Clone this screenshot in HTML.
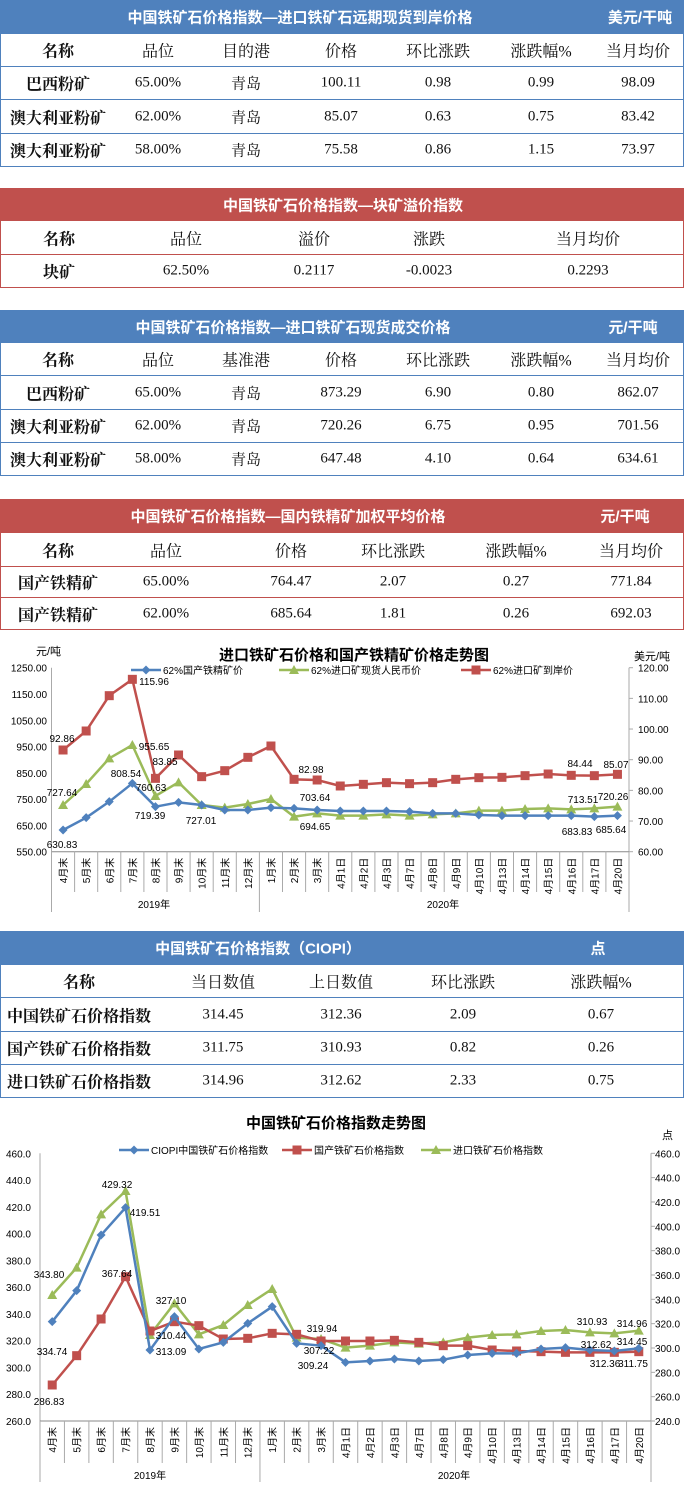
<!DOCTYPE html>
<html><head><meta charset="utf-8">
<style>
body{margin:0;width:684px;height:1487px;position:relative;background:#fff;font-family:"Liberation Serif","Noto Serif CJK SC",serif;overflow:hidden}
.hd{position:absolute;left:0;width:684px;color:#fff;font-weight:bold;font-family:"Liberation Sans","Noto Sans CJK SC",sans-serif;font-size:15px}
.hd span{position:absolute;top:50%;transform:translate(-50%,-50%);white-space:nowrap}
.row{position:absolute;left:0;width:682px;border:1px solid;border-top:none;box-sizing:content-box}
.row span{position:absolute;top:50%;transform:translate(-50%,-50%);white-space:nowrap;font-size:15px;color:#111}
.row span.b{font-weight:bold;font-size:16px}
.row span.h{font-size:16px}
svg text{font-family:"Liberation Sans","Noto Sans CJK SC",sans-serif}
</style></head><body>
<div id="root"></div>
<svg id="c1" style="position:absolute;left:0;top:630px" width="684" height="290"></svg>
<svg id="c2" style="position:absolute;left:0;top:1105px" width="684" height="382"></svg>
<script>
const B='#4f81bd',R='#c0504d';
let html='';
function table(top,color,title,tx,unit,ux,rows,cols,lines){
 html+=`<div class="hd" style="top:${top}px;height:${lines[0]-top}px;background:${color}"><span style="left:${tx}px">${title}</span>${unit?`<span style="left:${ux}px">${unit}</span>`:''}</div>`;
 let y=lines[0];
 rows.forEach((r,i)=>{const h=lines[i+1]-y-1;
  html+=`<div class="row" style="top:${y}px;height:${h}px;border-color:${color}">`+
  r.map((c,j)=>`<span class="${j==0?'b':(i==0?'h':'')}" style="left:${cols[j]}px">${c}</span>`).join('')+'</div>';
  y=lines[i+1];});
}
table(0,B,'中国铁矿石价格指数—进口铁矿石远期现货到岸价格',300,'美元/干吨',640,
[['名称','品位','目的港','价格','环比涨跌','涨跌幅%','当月均价'],
['巴西粉矿','65.00%','青岛','100.11','0.98','0.99','98.09'],
['澳大利亚粉矿','62.00%','青岛','85.07','0.63','0.75','83.42'],
['澳大利亚粉矿','58.00%','青岛','75.58','0.86','1.15','73.97']],
[57,157,245,340,437,540,637],[34,67,100,134,167]);
table(188,R,'中国铁矿石价格指数—块矿溢价指数',343,'',0,
[['名称','品位','溢价','涨跌','当月均价'],['块矿','62.50%','0.2117','-0.0023','0.2293']],
[58,185,313,428,587],[221,255,288]);
table(310,B,'中国铁矿石价格指数—进口铁矿石现货成交价格',293,'元/干吨',633,
[['名称','品位','基准港','价格','环比涨跌','涨跌幅%','当月均价'],
['巴西粉矿','65.00%','青岛','873.29','6.90','0.80','862.07'],
['澳大利亚粉矿','62.00%','青岛','720.26','6.75','0.95','701.56'],
['澳大利亚粉矿','58.00%','青岛','647.48','4.10','0.64','634.61']],
[57,157,245,340,437,540,637],[343,376,410,443,476]);
table(499,R,'中国铁矿石价格指数—国内铁精矿加权平均价格',288,'元/干吨',625,
[['名称','品位','价格','环比涨跌','涨跌幅%','当月均价'],
['国产铁精矿','65.00%','764.47','2.07','0.27','771.84'],
['国产铁精矿','62.00%','685.64','1.81','0.26','692.03']],
[57,165,290,392,515,630],[533,567,598,630]);
table(931,B,'中国铁矿石价格指数（CIOPI）',258,'点',598,
[['名称','当日数值','上日数值','环比涨跌','涨跌幅%'],
['中国铁矿石价格指数','314.45','312.36','2.09','0.67'],
['国产铁矿石价格指数','311.75','310.93','0.82','0.26'],
['进口铁矿石价格指数','314.96','312.62','2.33','0.75']],
[78,222,340,462,600],[965,998,1032,1065,1098]);
document.getElementById('root').innerHTML=html;

const cats=['4月末','5月末','6月末','7月末','8月末','9月末','10月末','11月末','12月末','1月末','2月末','3月末','4月1日','4月2日','4月3日','4月7日','4月8日','4月9日','4月10日','4月13日','4月14日','4月15日','4月16日','4月17日','4月20日'];
const G='#9bbb59';
function mk(shape,x,y,c){
 if(shape=='d')return `<polygon points="${x},${y-4.5} ${x+4.5},${y} ${x},${y+4.5} ${x-4.5},${y}" fill="${c}"/>`;
 if(shape=='s')return `<rect x="${x-4.5}" y="${y-4.5}" width="9" height="9" fill="${c}"/>`;
 return `<polygon points="${x},${y-5} ${x+5},${y+4} ${x-5},${y+4}" fill="${c}"/>`;
}
function series(xs,ys,c,shape){
 let s=`<polyline points="${xs.map((x,i)=>x+','+ys[i]).join(' ')}" fill="none" stroke="${c}" stroke-width="2.5"/>`;
 xs.forEach((x,i)=>s+=mk(shape,x,ys[i],c));return s;
}
function chart(id,o){
 let s='';
 s+=`<text x="${o.tx}" y="${o.ty}" font-size="15" font-weight="bold" text-anchor="middle" font-family="Liberation Serif,Noto Serif CJK SC,serif">${o.title}</text>`;
 s+=`<line x1="${o.x0}" y1="${o.ytop}" x2="${o.x0}" y2="${o.yb}" stroke="#aaa"/>`;
 s+=`<line x1="${o.x1}" y1="${o.ytop}" x2="${o.x1}" y2="${o.yb}" stroke="#aaa"/>`;
 s+=`<line x1="${o.x0}" y1="${o.yb}" x2="${o.x1}" y2="${o.yb}" stroke="#888"/>`;
 o.left.forEach((l,i)=>{const y=o.ytop+(o.yb-o.ytop)*i/(o.left.length-1);
  s+=`<text x="${o.lx}" y="${y+4}" font-size="10" text-anchor="end">${l}</text>`});
 o.right.forEach((l,i)=>{const y=o.ytop+(o.yb-o.ytop)*i/(o.right.length-1);
  s+=`<line x1="${o.x1}" y1="${y}" x2="${o.x1+4}" y2="${y}" stroke="#aaa"/><text x="${o.rx}" y="${y+4}" font-size="10">${l}</text>`});
 const sp=(o.x1-o.x0)/25, xs=cats.map((_,i)=>o.x0+sp*(i+.5));
 for(let i=0;i<=25;i++){const x=o.x0+sp*i;s+=`<line x1="${x}" y1="${o.yb}" x2="${x}" y2="${i==0||i==25||i==9?o.yend:o.ydiv}" stroke="#aaa"/>`;}
 cats.forEach((c,i)=>s+=`<text transform="translate(${xs[i]+4},${o.yb+6}) rotate(-90)" font-size="10" text-anchor="end">${c}</text>`);
 s+=`<text x="${o.y19}" y="${o.yy}" font-size="10" text-anchor="middle">2019年</text><text x="${o.y20}" y="${o.yy}" font-size="10" text-anchor="middle">2020年</text>`;
 o.series.forEach(se=>s+=series(xs,se.y,se.c,se.m));
 o.legend.forEach(l=>{s+=`<line x1="${l[0]}" y1="${l[1]}" x2="${l[0]+30}" y2="${l[1]}" stroke="${l[3]}" stroke-width="2.5"/>`+mk(l[4],l[0]+15,l[1],l[3])+`<text x="${l[0]+32}" y="${l[1]+4}" font-size="10">${l[2]}</text>`});
 o.labels.forEach(l=>s+=`<text x="${l[1]}" y="${l[2]+4}" font-size="10" text-anchor="middle">${l[0]}</text>`);
 (o.extra||[]).forEach(e=>s+=`<text x="${e[1]}" y="${e[2]}" font-size="11">${e[0]}</text>`);
 document.getElementById(id).innerHTML=s;
}
const v=a=>a.map(z=>z/3);
chart('c1',{title:'进口铁矿石价格和国产铁精矿价格走势图',tx:354,ty:30,x0:51.5,x1:629,ytop:37.7,yb:221.7,ydiv:262,yend:282,
 left:['1250.00','1150.00','1050.00','950.00','850.00','750.00','650.00','550.00'],lx:47,
 right:['120.00','110.00','100.00','90.00','80.00','70.00','60.00'],rx:638,y19:154,y20:443,yy:278,
 series:[
 {c:R,m:'s',y:v([360,303,197,148,445,375,440,422,382,348,448,450,468,463,458,461,458,448,443,442,437,432,436,437,433])},
 {c:G,m:'t',y:v([525,462,385,345,498,457,525,533,522,507,560,550,557,557,553,557,553,550,542,542,537,535,538,535,530])},
 {c:B,m:'d',y:v([600,563,515,460,530,517,525,540,540,533,535,540,543,543,543,545,550,550,555,557,557,557,557,560,557])}],
 legend:[[131,40,'62%国产铁精矿价',B,'d'],[279,40,'62%进口矿现货人民币价',G,'t'],[461,40,'62%进口矿到岸价',R,'s']],
 labels:[['92.86',62,108],['115.96',154,51],['955.65',154,116],['83.85',165,131],['808.54',126,143],['760.63',151,157],['727.64',62,162],['719.39',150,185],['727.01',201,190],['630.83',62,214],['82.98',311,139],['703.64',315,167],['694.65',315,196],['84.44',580,133],['85.07',616,134],['713.51',583,169],['720.26',613,166],['683.83',577,201],['685.64',611,199]],
 extra:[['元/吨',36,25],['美元/吨',634,30]]});
chart('c2',{title:'中国铁矿石价格指数走势图',tx:336,ty:23,x0:40,x1:651,ytop:48.3,yb:316,ydiv:358,yend:377,
 left:['460.0','440.0','420.0','400.0','380.0','360.0','340.0','320.0','300.0','280.0','260.0'],lx:31,
 right:['460.0','440.0','420.0','400.0','380.0','360.0','340.0','320.0','300.0','280.0','260.0','240.0'],rx:655,y19:150,y20:454,yy:374,
 series:[
 {c:G,m:'t',y:v([570,488,328,258,690,595,688,660,600,552,698,702,728,722,712,716,712,698,690,688,678,675,682,685,677])},
 {c:R,m:'s',y:v([840,752,642,515,678,650,662,702,700,685,688,708,708,708,706,712,722,722,735,738,740,742,742,742,740])},
 {c:B,m:'d',y:v([650,557,390,308,735,635,732,712,655,605,715,722,772,768,762,768,764,750,745,745,732,728,735,738,730])}],
 legend:[[119,45,'CIOPI中国铁矿石价格指数',B,'d'],[282,45,'国产铁矿石价格指数',R,'s'],[421,45,'进口铁矿石价格指数',G,'t']],
 labels:[['343.80',49,169],['429.32',117,79],['419.51',145,107],['367.64',117,168],['327.10',171,195],['310.44',171,230],['334.74',52,246],['313.09',171,246],['286.83',49,296],['319.94',322,223],['307.22',319,245],['309.24',313,260],['310.93',592,216],['314.96',632,218],['312.62',596,239],['314.45',632,236],['312.36',605,258],['311.75',633,258]],
 extra:[['点',662,34]]});
</script>
</body></html>
